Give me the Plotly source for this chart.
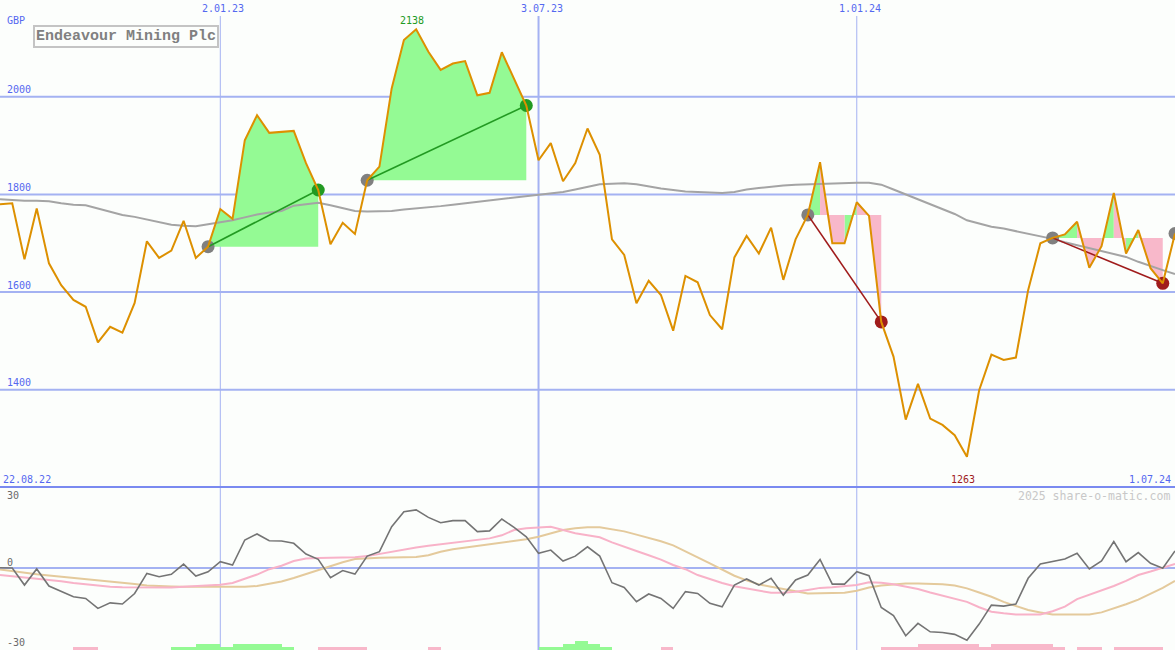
import pandas as pd
import plotly.graph_objects as go

# ---------------- data ----------------
start_date = "2022-08-29"
price = [1780, 1782, 1667, 1771, 1659, 1614, 1584, 1570, 1497, 1529,
         1517, 1578, 1704, 1670, 1685, 1746, 1670, 1693, 1770, 1750,
         1911, 1962, 1926, 1928, 1930, 1864, 1809, 1698, 1742, 1719,
         1829, 1857, 2017, 2116, 2138, 2092, 2055, 2068, 2073, 2003,
         2008, 2091, 2036, 1982, 1870, 1905, 1827, 1864, 1935, 1881,
         1708, 1676, 1577, 1623, 1594, 1521, 1633, 1620, 1553, 1524,
         1671, 1715, 1679, 1732, 1625, 1708, 1758, 1866, 1700, 1700,
         1784, 1756, 1539, 1468, 1339, 1412, 1341, 1328, 1307, 1263,
         1399, 1472, 1461, 1466, 1604, 1700, 1711, 1718, 1744, 1650,
         1694, 1803, 1679, 1727, 1649, 1618, 1720]
moving_avg = [1790, 1788, 1787, 1787, 1786, 1782, 1779, 1778, 1771, 1765,
              1758, 1754, 1749, 1743, 1738, 1736, 1735, 1739, 1743, 1747,
              1753, 1759, 1763, 1766, 1777, 1780, 1783, 1778, 1772, 1766,
              1765, 1765, 1766, 1769, 1771, 1773, 1776, 1779, 1782, 1784,
              1787, 1790, 1794, 1797, 1800, 1803, 1805, 1810, 1815, 1821,
              1822, 1823, 1821, 1816, 1812, 1809, 1806, 1805, 1804, 1803,
              1805, 1810, 1813, 1816, 1818, 1820, 1821, 1822, 1822, 1824,
              1824, 1824, 1820, 1810, 1800, 1790, 1781, 1771, 1760, 1747,
              1740, 1734, 1730, 1725, 1720, 1714, 1709, 1702, 1696, 1689,
              1683, 1678, 1672, 1662, 1653, 1645, 1637]
momentum = [0.1, 0, -7.3, -0.4, -7.7, -10, -12.3, -13, -17.3, -14.9,
            -15.4, -10.9, -2.3, -3.7, -2.7, 1.7, -3.4, -1.6, 2.7, 1.3,
            12, 14.6, 11.7, 11.6, 10.6, 6, 3.7, -4.1, -1.1, -2.6,
            5.1, 7, 17.7, 24.1, 24.9, 21.7, 19.4, 20.3, 20.3, 15.6,
            15.9, 21, 17.4, 13.4, 6.3, 7.7, 3, 5.1, 9.1, 5.1,
            -6.3, -8.3, -14.4, -11.1, -13, -17.3, -10.1, -10.9, -15.1, -16.6,
            -7.3, -4.7, -7.3, -4.4, -11.6, -5.1, -3, 3.7, -6.9, -6.9,
            -1.6, -3.3, -16.9, -20.4, -29, -23.7, -27.3, -27.6, -28.4, -30.9,
            -24, -15.9, -16.3, -15.4, -4.4, 1.7, 2.7, 3.9, 6.3, -0.4,
            3, 11.3, 2.7, 6.6, 2, -0.1, 7.3]
signal_fast = [-3, -3.5, -4, -4.4, -5, -5.7, -6.4, -7, -7.6, -8,
               -8.2, -8.3, -8.3, -8.3, -8.3, -8, -7.8, -7.6, -7.2, -6.4,
               -4.5, -2.8, -0.5, 1, 3, 4.1, 4.3, 4.4, 4.4, 4.6,
               5.1, 6, 7.2, 8, 8.8, 9.5, 10.1, 10.8, 11.4, 12,
               12.7, 14, 16.3, 17, 17.3, 17.7, 16.3, 14.9, 14, 13.2,
               11, 9.3, 7.3, 5.5, 3.6, 1.3, -0.5, -3, -4.8, -6.4,
               -7.8, -8.8, -9.8, -10.6, -10.6, -10.2, -9.4, -8.5, -8.2, -7.8,
               -7.3, -6.1, -6.3, -6.9, -7.8, -9, -10.5, -11.8, -13, -14.5,
               -16.8, -18.7, -19.4, -19.9, -19.9, -19.9, -18.5, -16.5, -13.3, -11.5,
               -9.5, -7.7, -5.5, -3, -1.5, 0.3, 1.8]
signal_slow = [-0.6, -1.4, -2.1, -2.7, -3.2, -3.7, -4.1, -4.6, -5.1, -5.5,
               -6, -6.8, -7.5, -7.8, -7.9, -8, -8, -8.2, -8.3, -8.3,
               -8, -7.7, -6.9, -5.8, -4.3, -2.6, -0.8, 0.9, 2.5, 3.9,
               4.3, 4.4, 4.5, 4.6, 4.7, 5.5, 7, 8, 8.7, 9.5,
               10.4, 11, 11.6, 12.3, 13.4, 15, 16.3, 17, 17.5, 17.5,
               16.5, 15.7, 14.3, 13, 11.5, 9.7, 7.3, 4.6, 2, -0.8,
               -3.3, -5.3, -7, -8, -9, -10, -10.9, -10.8, -10.6, -10.6,
               -9.7, -8.3, -7.5, -6.9, -6.6, -6.6, -6.8, -6.9, -7.5, -8.7,
               -10.5, -12.3, -14.5, -16.3, -18, -19, -19.9, -19.9, -19.9, -19.9,
               -19, -17.3, -15.5, -13.5, -11, -8.5, -5.5]
# weekly histogram levels (index: level)
hist_up = {14: 1, 15: 1, 16: 2, 17: 2, 18: 1, 19: 2, 20: 2, 21: 2, 22: 2, 23: 1,
           44: 1, 45: 1, 46: 2, 47: 3, 48: 2, 49: 1}
hist_down = {6: 1, 7: 1, 26: 1, 27: 1, 28: 1, 29: 1, 35: 1, 54: 1,
             72: 1, 73: 1, 74: 1, 75: 2, 76: 2, 77: 2, 78: 2, 79: 2, 80: 1,
             81: 2, 82: 2, 83: 2, 84: 2, 85: 2, 86: 1, 88: 1, 89: 1,
             91: 1, 92: 1, 93: 1, 94: 1}
trades = [(17, 26), (30, 43), (66, 72), (86, 95)]   # (entry index, exit index)
open_entries = [96]
title = "Endeavour Mining Plc"
currency = "GBP"
price_ticks = [2000, 1800, 1600, 1400]
osc_ticks = [30, 0, -30]
date_lines = ["2023-01-02", "2023-07-03", "2024-01-01"]
date_line_labels = ["2.01.23", "3.07.23", "1.01.24"]
first_label = "22.08.22"
last_label = "1.07.24"
watermark = "2025 share-o-matic.com"

# ---------------- styles ----------------
W, H = 1175, 650
BG = "#FCFEFC"
GRID = "#A4B2F2"
DIVIDER = "#7A8AF0"
BLUE_TXT = "#5468F0"
ORANGE = "#DD9000"
MA_GRAY = "#A4A4A4"
FILL_UP = "#94FA94"
FILL_DN = "#F8B8CA"
WIN = "#229A22"
LOSS = "#A01C1C"
DOT_GRAY = "#808080"
MONO = "DejaVu Sans Mono"

d0 = pd.Timestamp(start_date)
week = pd.Timedelta(days=7)
dates = [d0 + i * week for i in range(len(price))]


def t(idx):
    return d0 + pd.Timedelta(days=7 * idx)


split = 163 / H  # lower panel height fraction

fig = go.Figure()

# ---- trade fills (per-segment colouring by segment end vs entry level)
up_x, up_y, dn_x, dn_y = [], [], [], []
for e, x in trades:
    lvl = price[e]
    i = e
    while i < x:
        good = price[i + 1] > lvl
        j = i
        while j < x and (price[j + 1] > lvl) == good:
            j += 1
        px = [t(i)] + [t(k) for k in range(i, j + 1)] + [t(j), t(i)]
        py = [lvl] + [price[k] for k in range(i, j + 1)] + [lvl, lvl]
        if good:
            up_x += px + [None]
            up_y += py + [None]
        else:
            dn_x += px + [None]
            dn_y += py + [None]
        i = j
fig.add_trace(go.Scatter(x=up_x, y=up_y, mode="lines", fill="toself", fillcolor=FILL_UP,
                         line=dict(width=0, color=FILL_UP), hoverinfo="skip"))
fig.add_trace(go.Scatter(x=dn_x, y=dn_y, mode="lines", fill="toself", fillcolor=FILL_DN,
                         line=dict(width=0, color=FILL_DN), hoverinfo="skip"))

# ---- moving average
fig.add_trace(go.Scatter(x=dates, y=moving_avg, mode="lines",
                         line=dict(color=MA_GRAY, width=2)))

# ---- trade markers
entry_idx = [e for e, _ in trades] + open_entries
fig.add_trace(go.Scatter(x=[dates[i] for i in entry_idx], y=[price[i] for i in entry_idx],
                         mode="markers", marker=dict(size=13, color=DOT_GRAY)))
for e, x in trades:
    col = WIN if price[x] > price[e] else LOSS
    fig.add_trace(go.Scatter(x=[dates[x]], y=[price[x]], mode="markers",
                             marker=dict(size=13, color=col)))
    fig.add_trace(go.Scatter(x=[dates[e], dates[x]], y=[price[e], price[x]], mode="lines",
                             line=dict(color=col, width=1.6)))

# ---- price
fig.add_trace(go.Scatter(x=dates, y=price, mode="lines", line=dict(color=ORANGE, width=2)))

# ---- lower panel histogram
bar_unit_range = 163 / 3
for hist, col in ((hist_up, FILL_UP), (hist_down, FILL_DN)):
    ks = sorted(hist)
    fig.add_trace(go.Bar(x=[t(k + 0.5) for k in ks], y=[hist[k] for k in ks],
                         width=[7 * 86400000] * len(ks), marker=dict(color=col, line=dict(width=0)),
                         xaxis="x2", yaxis="y3"))

# ---- oscillator lines
fig.add_trace(go.Scatter(x=dates, y=signal_slow, mode="lines", line=dict(color="#E4CA9C", width=2),
                         xaxis="x2", yaxis="y2"))
fig.add_trace(go.Scatter(x=dates, y=signal_fast, mode="lines", line=dict(color="#F8B2C8", width=2),
                         xaxis="x2", yaxis="y2"))
fig.add_trace(go.Scatter(x=dates, y=momentum, mode="lines", line=dict(color="#747474", width=1.6),
                         xaxis="x2", yaxis="y2"))

# ---------------- shapes ----------------
shapes = []
for v in price_ticks:
    shapes.append(dict(type="line", xref="paper", x0=0, x1=1, yref="y", y0=v, y1=v,
                       line=dict(color=GRID, width=2), layer="below"))
shapes.append(dict(type="line", xref="paper", x0=0, x1=1, yref="y2", y0=0, y1=0,
                   line=dict(color=GRID, width=2), layer="below"))
for d, wdt in zip(date_lines, [1, 2, 1]):
    shapes.append(dict(type="line", xref="x", x0=d, x1=d, yref="paper", y0=0, y1=1 - 16 / H,
                       line=dict(color=GRID, width=wdt), layer="below"))
shapes.append(dict(type="line", xref="paper", x0=0, x1=1, yref="paper", y0=split, y1=split,
                   line=dict(color=DIVIDER, width=2), layer="above"))

# ---------------- annotations ----------------
ann = []


def ptxt(text, xpx, ypx, color, size=10, xanchor="left", **kw):
    ann.append(dict(text=text, xref="paper", yref="paper", x=xpx / W, y=1 - ypx / H,
                    xanchor=xanchor, yanchor="middle", showarrow=False,
                    font=dict(family=MONO, size=size, color=color), **kw))


ptxt(currency, 5, 20, BLUE_TXT)
for v in price_ticks:
    ann.append(dict(text=str(v), xref="paper", yref="y", x=5 / W, y=v, yshift=7,
                    xanchor="left", yanchor="middle", showarrow=False,
                    font=dict(family=MONO, size=10, color=BLUE_TXT)))
for d, lab in zip(date_lines, date_line_labels):
    ann.append(dict(text=lab, xref="x", yref="paper", x=d, y=1 - 9 / H, xshift=3,
                    xanchor="center", yanchor="middle", showarrow=False,
                    font=dict(family=MONO, size=10, color=BLUE_TXT)))
ptxt(first_label, 1, 479, BLUE_TXT)
ptxt(last_label, 1173, 479, BLUE_TXT, xanchor="right")

imax = price.index(max(price))
imin = price.index(min(price))
ann.append(dict(text=str(max(price)), xref="x", yref="paper", x=dates[imax], y=1 - 21 / H,
                xshift=-4, xanchor="center", yanchor="middle", showarrow=False,
                font=dict(family=MONO, size=10, color=WIN)))
ann.append(dict(text=str(min(price)), xref="x", yref="paper", x=dates[imin], y=1 - 479 / H,
                xshift=-4, xanchor="center", yanchor="middle", showarrow=False,
                font=dict(family=MONO, size=10, color=LOSS)))

for v, ypx in zip(osc_ticks, [495, 562, 642]):
    ptxt(str(v), 5, ypx, "#6A6A6A")

ptxt(watermark, 1172, 496, "#C8C8C8", size=11.5, xanchor="right")

ann.append(dict(text="<b>" + title + "</b>", xref="paper", yref="paper", x=33 / W, y=1 - 25 / H,
                xanchor="left", yanchor="top", showarrow=False,
                font=dict(family="Liberation Mono", size=15, color="#808080"),
                bordercolor="#C4C4C4", borderwidth=2, borderpad=1, bgcolor=BG))

# ---------------- layout ----------------
x_end = t(96)
fig.update_layout(
    width=W, height=H, margin=dict(l=0, r=0, t=0, b=0),
    paper_bgcolor=BG, plot_bgcolor=BG, showlegend=False, bargap=0,
    xaxis=dict(domain=[0, 1], range=[d0, x_end], visible=False, anchor="y"),
    yaxis=dict(domain=[split, 1], range=[1201, 2198], visible=False, anchor="x"),
    xaxis2=dict(domain=[0, 1], matches="x", visible=False, anchor="y2"),
    yaxis2=dict(domain=[0, split], range=[-35.1, 34.7], visible=False, anchor="x2"),
    yaxis3=dict(overlaying="y2", range=[0, bar_unit_range], visible=False, anchor="x2"),
    shapes=shapes, annotations=ann,
)

fig.write_html("out.html", config={"displayModeBar": False},
               post_script="document.body.style.margin='0px';document.body.style.overflow='hidden';")
